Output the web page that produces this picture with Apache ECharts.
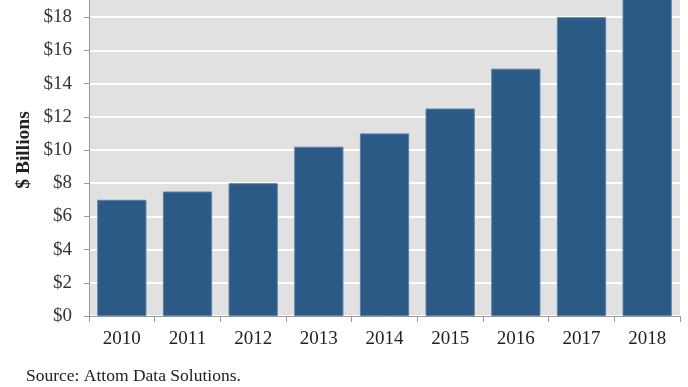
<!DOCTYPE html>
<html>
<head>
<meta charset="utf-8">
<script src="https://cdn.jsdelivr.net/npm/echarts@6/dist/echarts.min.js"></script>
<style>html,body{margin:0;padding:0;background:#fff;}#c{width:688px;height:387px;}</style>
</head>
<body>
<div id="c"></div>
<script>
const categories = ['2010','2011','2012','2013','2014','2015','2016','2017','2018'];
const values = [7.0, 7.5, 8.0, 10.2, 11.0, 12.5, 14.9, 18.0, 20.5];
const yTicks = [0, 2, 4, 6, 8, 10, 12, 14, 16, 18, 20];
const yTitle = '$ Billions';
const source = 'Source: Attom Data Solutions.';

const font = '"Liberation Serif", "DejaVu Serif", serif';
const chart = echarts.init(document.getElementById('c'), null, {renderer: 'canvas'});
chart.setOption({
  animation: false,
  backgroundColor: '#ffffff',
  title: {
    text: source, left: 21, top: 362,
    textStyle: {fontFamily: font, fontSize: 17.5, fontWeight: 'normal', color: '#222'}
  },
  grid: {
    left: 89, right: 8, top: -16, bottom: 71,
    outerBoundsMode: 'none', containLabel: false,
    show: true, backgroundColor: '#e1e1e1', borderWidth: 0
  },
  xAxis: {
    type: 'category', data: categories,
    axisLine: {show: true, lineStyle: {color: '#999', width: 1}},
    axisTick: {show: true, length: 6, lineStyle: {color: '#999'}},
    axisLabel: {fontFamily: font, fontSize: 19, color: '#222', margin: 14}
  },
  yAxis: {
    type: 'value', min: yTicks[0], max: yTicks[yTicks.length-1], interval: 2,
    name: yTitle, nameLocation: 'middle', nameGap: 55, nameRotate: 90,
    nameMoveOverlap: false,
    nameTextStyle: {fontFamily: font, fontSize: 19.5, fontWeight: 'bold', color: '#222'},
    axisLine: {show: true, lineStyle: {color: '#999', width: 1}},
    axisTick: {show: true, length: 5, lineStyle: {color: '#999'}},
    axisLabel: {fontFamily: font, fontSize: 19, color: '#333', margin: 17,
      formatter: v => '$' + v},
    splitLine: {show: true, lineStyle: {color: '#ffffff', width: 2}}
  },
  series: [{
    type: 'bar', data: values, barCategoryGap: '25%', clip: true,
    itemStyle: {color: '#2b5a87', borderColor: '#5b80a6', borderWidth: 1}
  }]
});
</script>
</body>
</html>
